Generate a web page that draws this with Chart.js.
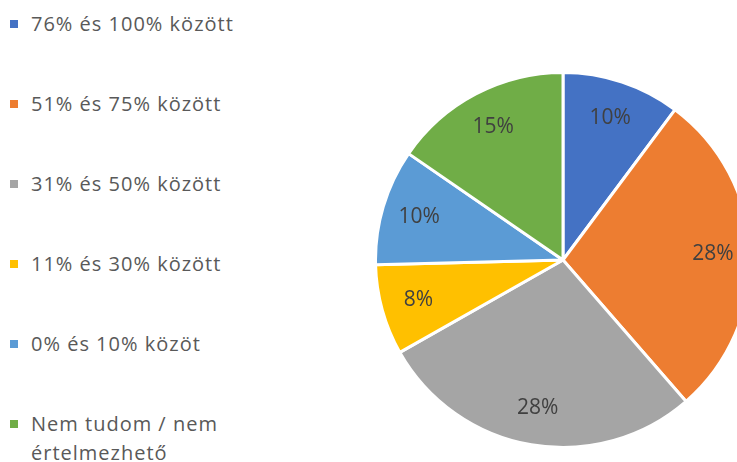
<!DOCTYPE html>
<html>
<head>
<meta charset="utf-8">
<script src="https://cdn.jsdelivr.net/npm/chart.js@4/dist/chart.umd.min.js"></script>
<style>
    html, body { margin: 0; padding: 0; background: #fff; overflow: hidden; }
    body { width: 737px; height: 462px; position: relative; font-family: "Open Sans", sans-serif; }
    #legend { position: absolute; left: 0; top: 0; }
    .item { position: absolute; left: 10px; white-space: nowrap; color: #595959; font-size: 20px; line-height: 29px; letter-spacing: 1px; }
    .item span.box { position: absolute; left: 0; top: 11px; width: 8px; height: 8px; }
    .item span.txt { position: absolute; left: 21px; top: 0; }
    #wrap { position: absolute; left: 374px; top: 71px; width: 378px; height: 378px; }
</style>
</head>
<body>
<div id="legend"></div>
<div id="wrap"><canvas id="pie"></canvas></div>
<script>
(function () {
    const categories = [
        '76% és 100% között',
        '51% és 75% között',
        '31% és 50% között',
        '11% és 30% között',
        '0% és 10% közöt',
        'Nem tudom / nem\nértelmezhető'
    ];
    const values = [10.2, 28.4, 28.2, 7.8, 10.0, 15.4];
    const colors = ['#4472C4', '#ED7D31', '#A5A5A5', '#FFC000', '#5B9BD5', '#70AD47'];

    // html legend on the left, like the office export
    const legend = document.getElementById('legend');
    categories.forEach(function (name, i) {
        const div = document.createElement('div');
        div.className = 'item';
        div.style.top = (9 + i * 80) + 'px';
        const box = document.createElement('span');
        box.className = 'box';
        box.style.background = colors[i];
        const txt = document.createElement('span');
        txt.className = 'txt';
        txt.innerHTML = name.replace('\n', '<br>');
        div.appendChild(box);
        div.appendChild(txt);
        legend.appendChild(div);
    });

    const sliceLabels = {
        id: 'sliceLabels',
        afterDatasetsDraw: function (chart) {
            const ctx = chart.ctx;
            const meta = chart.getDatasetMeta(0);
            const total = values.reduce(function (a, b) { return a + b; }, 0);
            ctx.save();
            ctx.font = '21px "Open Sans", sans-serif';
            ctx.fillStyle = '#404040';
            ctx.textAlign = 'center';
            ctx.textBaseline = 'middle';
            meta.data.forEach(function (arc, i) {
                const p = arc.getProps(['x', 'y', 'startAngle', 'endAngle', 'outerRadius'], true);
                const mid = (p.startAngle + p.endAngle) / 2;
                const r = p.outerRadius * 0.8;
                const pct = Math.round(values[i] / total * 100) + '%';
                ctx.fillText(pct, p.x + Math.cos(mid) * r, p.y + Math.sin(mid) * r);
            });
            ctx.restore();
        }
    };

    new Chart(document.getElementById('pie').getContext('2d'), {
        type: 'pie',
        data: {
            labels: categories,
            datasets: [{
                data: values,
                backgroundColor: colors,
                borderColor: '#ffffff',
                borderWidth: 3
            }]
        },
        options: {
            responsive: true,
            maintainAspectRatio: false,
            animation: false,
            layout: { padding: 0 },
            plugins: {
                legend: { display: false },
                tooltip: { enabled: false }
            }
        },
        plugins: [sliceLabels]
    });
})();
</script>
</body>
</html>
